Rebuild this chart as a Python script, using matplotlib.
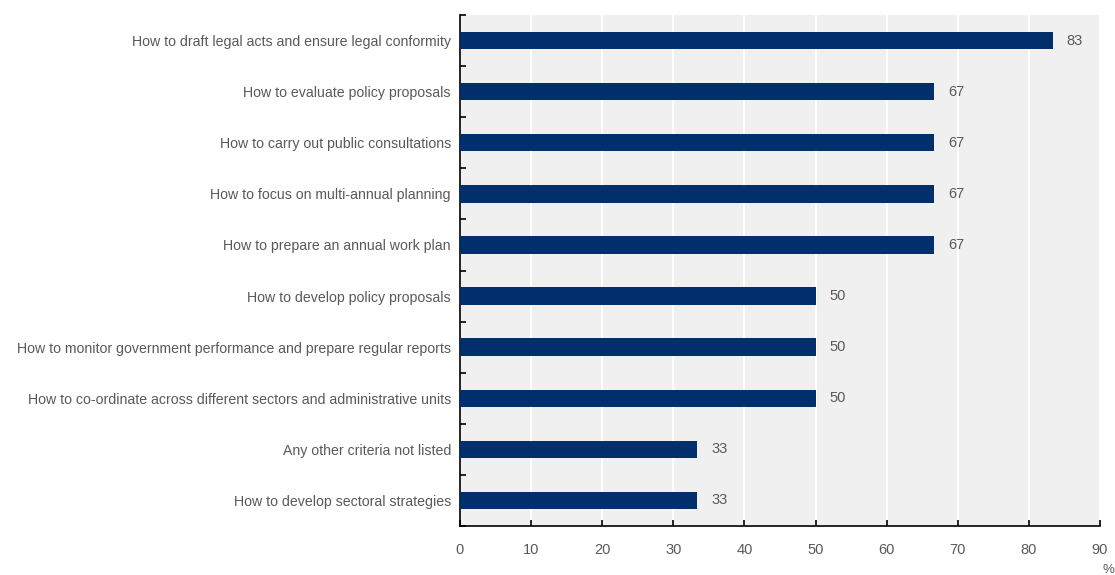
import matplotlib
matplotlib.use("Agg")
import matplotlib.pyplot as plt
from matplotlib.ticker import FixedLocator

categories = [
    "How to draft legal acts and ensure legal conformity",
    "How to evaluate policy proposals",
    "How to carry out public consultations",
    "How to focus on multi-annual planning",
    "How to prepare an annual work plan",
    "How to develop policy proposals",
    "How to monitor government performance and prepare regular reports",
    "How to co-ordinate across different sectors and administrative units",
    "Any other criteria not listed",
    "How to develop sectoral strategies",
]
values = [83.33, 66.67, 66.67, 66.67, 66.67, 50, 50, 50, 33.33, 33.33]
xticks = [0, 10, 20, 30, 40, 50, 60, 70, 80, 90]

plt.rcParams['font.family'] = ['Liberation Sans', 'DejaVu Sans']
txt = '#595959'
fs = 10.2
fig = plt.figure(figsize=(11.15, 5.75), dpi=100)
ax = fig.add_axes([460/1115, 1-526/575, 640/1115, 511/575])
ax.set_facecolor('#f0f0f0')
n = len(categories)
ypos = list(range(n))
ax.barh(ypos, values, height=0.34, color='#002f6c', zorder=3)
ax.set_ylim(n - 0.5, -0.5)
ax.set_xlim(0, 90)
ax.set_xticks(xticks)
ax.set_xticklabels([str(t) for t in xticks], color=txt, fontsize=10.5)
ax.set_yticks(ypos)
ax.set_yticklabels(categories, color=txt, fontsize=fs)
ax.tick_params(axis='y', length=0, pad=6.5)
ax.yaxis.set_minor_locator(FixedLocator([i - 0.5 for i in range(n + 1)]))
ax.tick_params(axis='y', which='minor', direction='in', length=4, width=1.2, color='black')
ax.tick_params(axis='x', direction='in', length=4, width=1.2, color='black', pad=12)
ax.grid(axis='x', color='white', linewidth=1.5, zorder=1)
ax.set_axisbelow(True)
for s in ['top', 'right']:
    ax.spines[s].set_visible(False)
for s in ['left', 'bottom']:
    ax.spines[s].set_color('black')
    ax.spines[s].set_linewidth(1.2)
for y, v in zip(ypos, values):
    ax.text(v + 2.0, y, f"{v:.0f}", va='center', ha='left', color=txt, fontsize=10.5)
fig.text(1108/1115, 1-570/575, "%", color=txt, fontsize=9.5, ha='center', va='center')
fig.savefig('out.png', dpi=100)
